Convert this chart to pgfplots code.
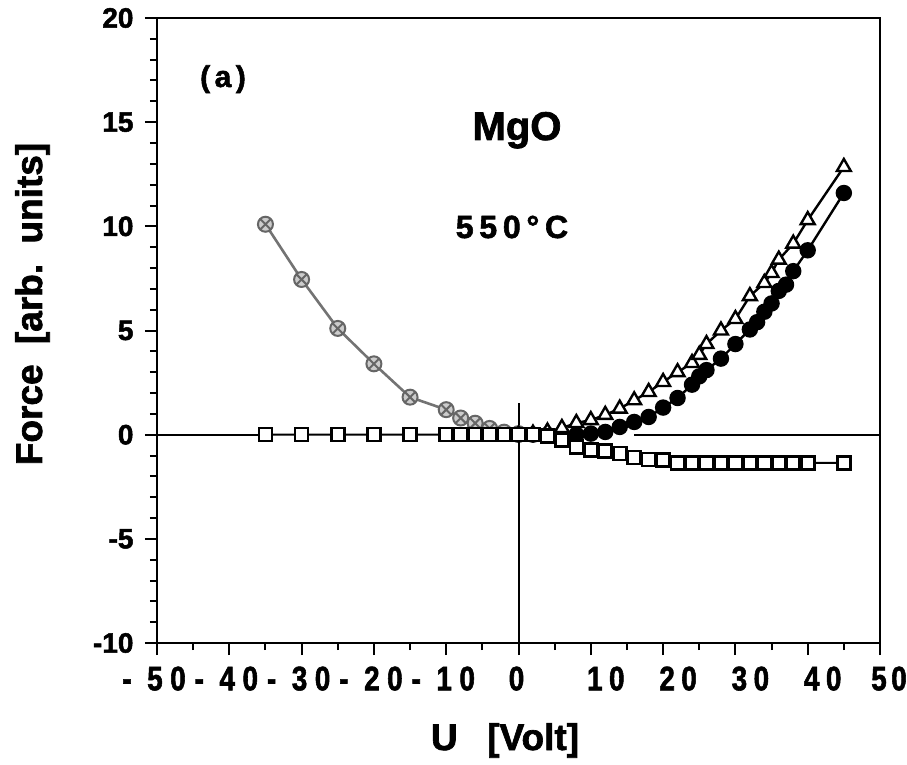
\documentclass[border=0pt]{standalone}
\usepackage{pgfplots}
\pgfplotsset{compat=1.18}
\usepackage{fontspec}
\setmainfont{Liberation Sans}[BoldFeatures={FakeBold=1.8}]
\newfontfamily\tickfont{Liberation Sans}[BoldFeatures={FakeBold=1.6,FakeStretch=0.82}]
\newcommand{\dig}[2]{\rlap{\kern#1\makebox[0pt]{#2}}}
\newcommand{\negl}[2]{\dig{-30pt}{-}\dig{-2pt}{#1}\dig{21pt}{#2}}
\newcommand{\posl}[2]{\dig{4pt}{#1}\dig{26pt}{#2}}
\begin{document}
\begin{tikzpicture}[x=1pt,y=1pt]
\path[use as bounding box] (-157,-121) rectangle (750,643);
\begin{axis}[at={(0,0)}, anchor=south west, scale only axis, width=723pt, height=625pt,
  xmin=-50, xmax=50, ymin=-10, ymax=20,
  axis line style={line width=2.6pt},
  xtick={-50,-40,...,50}, minor x tick num=1,
  ytick={-10,-5,...,20}, minor y tick num=4,
  xtick pos=bottom, ytick pos=left, tick align=outside,
  major tick length=12pt, minor tick length=7pt,
  tick style={black, line width=2pt},
  yticklabels={-10,-5,0,5,10,15,20},
  yticklabel style={font=\fontsize{28}{30}\selectfont\bfseries, xshift=-8pt},
  xticklabels={\negl50,\negl40,\negl30,\negl20,\negl10,\dig{-2pt}{0},\posl10,\posl20,\posl30,\posl40,\dig{-1pt}{5}\dig{19pt}{0}},
  xticklabel style={font=\fontsize{34}{36}\selectfont\tickfont\bfseries, anchor=north, yshift=-8pt},
  clip=false,
]
% zero lines
\addplot[black, line width=2pt, mark=none] coordinates {(-50,0) (-35,0)};
\addplot[black, line width=2pt, mark=none] coordinates {(16,0) (50,0)};
\addplot[black, line width=2pt, mark=none] coordinates {(0,-10) (0,1.5)};
% gray series
\addplot[black!55, line width=2.6pt, mark=otimes*, mark size=7.5pt,
  mark options={fill=gray!40, draw=black!60, line width=2pt}] coordinates {
  (-35,10.1) (-30,7.45) (-25,5.1) (-20,3.4) (-15,1.8) (-10,1.2) (-8,0.8) (-6,0.55) (-4,0.3) (-2,0.12) (0,0.05)};
% filled circles
\addplot[black, line width=2.4pt, mark=*, mark size=7pt] coordinates {
  (0,0) (2,0) (4,0) (6,0) (8,0) (10,0.05) (12,0.13) (14,0.37) (16,0.61) (18,0.85) (20,1.3) (22,1.76)
  (24,2.4) (25,2.8) (26,3.1) (28,3.65) (30,4.35) (32,5.05) (33,5.4) (34,5.9) (35,6.3) (36,6.9) (37,7.2)
  (38,7.85) (40,8.85) (45,11.6)};
% open triangles
\addplot[black, line width=2.4pt, mark=triangle*, mark size=8pt,
  mark options={fill=white, line width=2.4pt}] coordinates {
  (0,0) (2,0.05) (4,0.15) (6,0.32) (8,0.56) (10,0.7) (12,0.95) (14,1.25) (16,1.65) (18,2.05) (20,2.53)
  (22,3.0) (24,3.44) (25,3.83) (26,4.35) (28,5.0) (30,5.55) (32,6.65) (34,7.28) (35,7.76) (36,8.4)
  (38,9.17) (40,10.3) (45,12.85)};
% open squares
\addplot[black, line width=2pt, mark=square*, mark size=6.5pt,
  mark options={fill=white, line width=2.6pt}] coordinates {
  (-35,0) (-30,0) (-25,0) (-20,0) (-15,0) (-10,0) (-8,0) (-6,0) (-4,0) (-2,0) (0,0) (2,0)
  (4,-0.05) (6,-0.25) (8,-0.6) (10,-0.75) (12,-0.78) (14,-0.9) (16,-1.1) (18,-1.2) (20,-1.22)
  (22,-1.35) (24,-1.35) (26,-1.35) (28,-1.35) (30,-1.35) (32,-1.35) (34,-1.35) (36,-1.35)
  (38,-1.35) (40,-1.35) (45,-1.35)};
\end{axis}
\node[font=\fontsize{30}{32}\selectfont\bfseries\addfontfeature{LetterSpace=15}, anchor=base] at (66,556) {(a)};
\node[font=\fontsize{40}{42}\selectfont\bfseries, anchor=base] at (360,503) {MgO};
\node[font=\fontsize{32}{34}\selectfont\bfseries\addfontfeature{LetterSpace=18}, anchor=base] at (355,405) {550°C};
\node[font=\fontsize{37}{40}\selectfont\bfseries, anchor=base] at (348,-107) {U\hspace{0.8em}[Volt]};
\node[font=\fontsize{37}{40}\selectfont\bfseries, anchor=base, rotate=90] at (-115,339) {Force\hspace{0.55em}[arb.\hspace{0.55em}units]};
\end{tikzpicture}
\end{document}
